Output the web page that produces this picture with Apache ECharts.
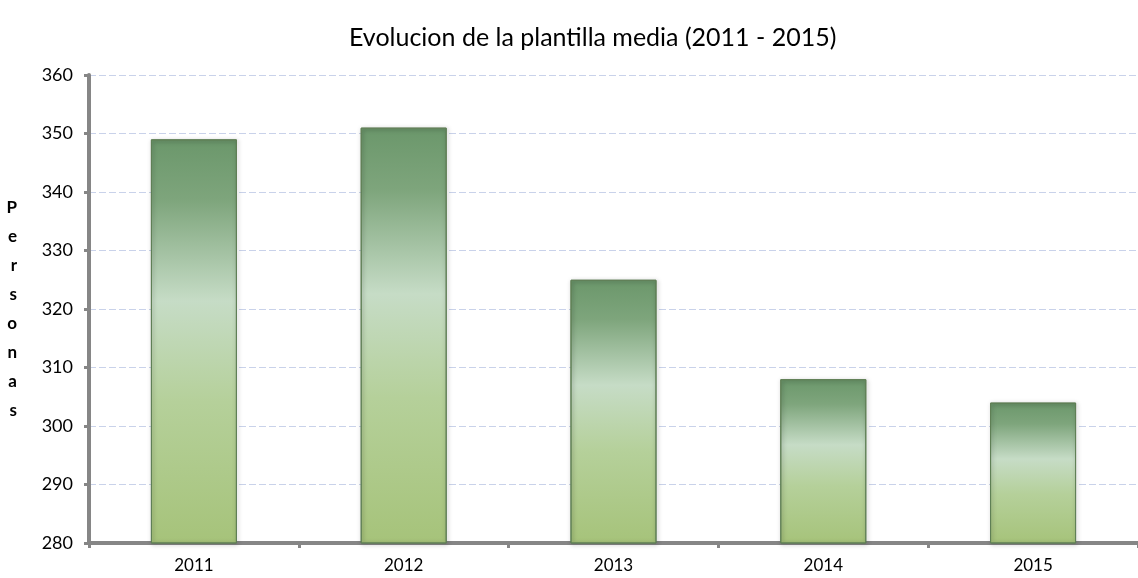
<!DOCTYPE html>
<html>
<head>
<meta charset="utf-8">
<script src="https://cdn.jsdelivr.net/npm/echarts@6/dist/echarts.min.js"></script>
<style>
  html, body { margin: 0; padding: 0; background: #fff; }
  #main { width: 1138px; height: 578px; }
</style>
</head>
<body>
<div id="main"></div>
<script>
// datos
var years = ['2011', '2012', '2013', '2014', '2015'];
var plantilla = [349, 351, 325, 308, 304];
var yTicks = [280, 290, 300, 310, 320, 330, 340, 350, 360];

var chart = echarts.init(document.getElementById('main'));

// degradado verde como en la hoja de calculo
var barColor = new echarts.graphic.LinearGradient(0, 0, 0, 1, [
    { offset: 0, color: '#6b976b' },
    { offset: 0.15, color: '#7ea57c' },
    { offset: 0.40, color: '#c6dcc6' },
    { offset: 0.65, color: '#b5d09a' },
    { offset: 1, color: '#a6c37a' }
]);

var option = {
    backgroundColor: '#ffffff',
    title: {
        text: 'Evolucion de la plantilla media (2011 - 2015)',
        left: 344,
        top: 20,
        textStyle: {
            fontFamily: 'Lato',
            fontSize: 25,
            fontWeight: 'normal',
            color: '#000'
        }
    },
    grid: {
        left: 89,
        right: -8,
        top: 75,
        bottom: 35,
        containLabel: false
    },
    xAxis: {
        type: 'category',
        data: years,
        axisLine: { lineStyle: { color: '#868686', width: 4 } },
        axisTick: { show: true, length: 5, lineStyle: { color: '#868686', width: 3 } },
        axisLabel: {
            margin: 14,
            fontFamily: 'Lato',
            fontSize: 17,
            color: '#000'
        }
    },
    yAxis: {
        type: 'value',
        min: yTicks[0],
        max: yTicks[yTicks.length - 1],
        interval: 10,
        name: 'P\ne\nr\ns\no\nn\na\ns',
        nameLocation: 'middle',
        nameRotate: 0,
        nameGap: 72,
        nameTextStyle: {
            fontFamily: 'Lato',
            fontWeight: 'bold',
            fontSize: 17,
            lineHeight: 29,
            color: '#000'
        },
        axisLine: { show: true, lineStyle: { color: '#868686', width: 4 } },
        axisTick: { show: true, length: 5, lineStyle: { color: '#868686', width: 3 } },
        axisLabel: {
            margin: 16,
            fontFamily: 'Lato',
            fontSize: 18,
            color: '#000'
        },
        splitLine: {
            lineStyle: { color: '#c9d2ea', width: 1, type: [7, 3] }
        }
    },
    series: [{
        type: 'bar',
        data: plantilla,
        barWidth: '41%',
        itemStyle: {
            color: barColor,
            borderColor: '#5f7f55',
            borderWidth: 1,
            shadowBlur: 4,
            shadowColor: 'rgba(0,0,0,0.35)',
            shadowOffsetX: 1,
            shadowOffsetY: 1
        }
    }]
};

chart.setOption(option);
</script>
</body>
</html>
